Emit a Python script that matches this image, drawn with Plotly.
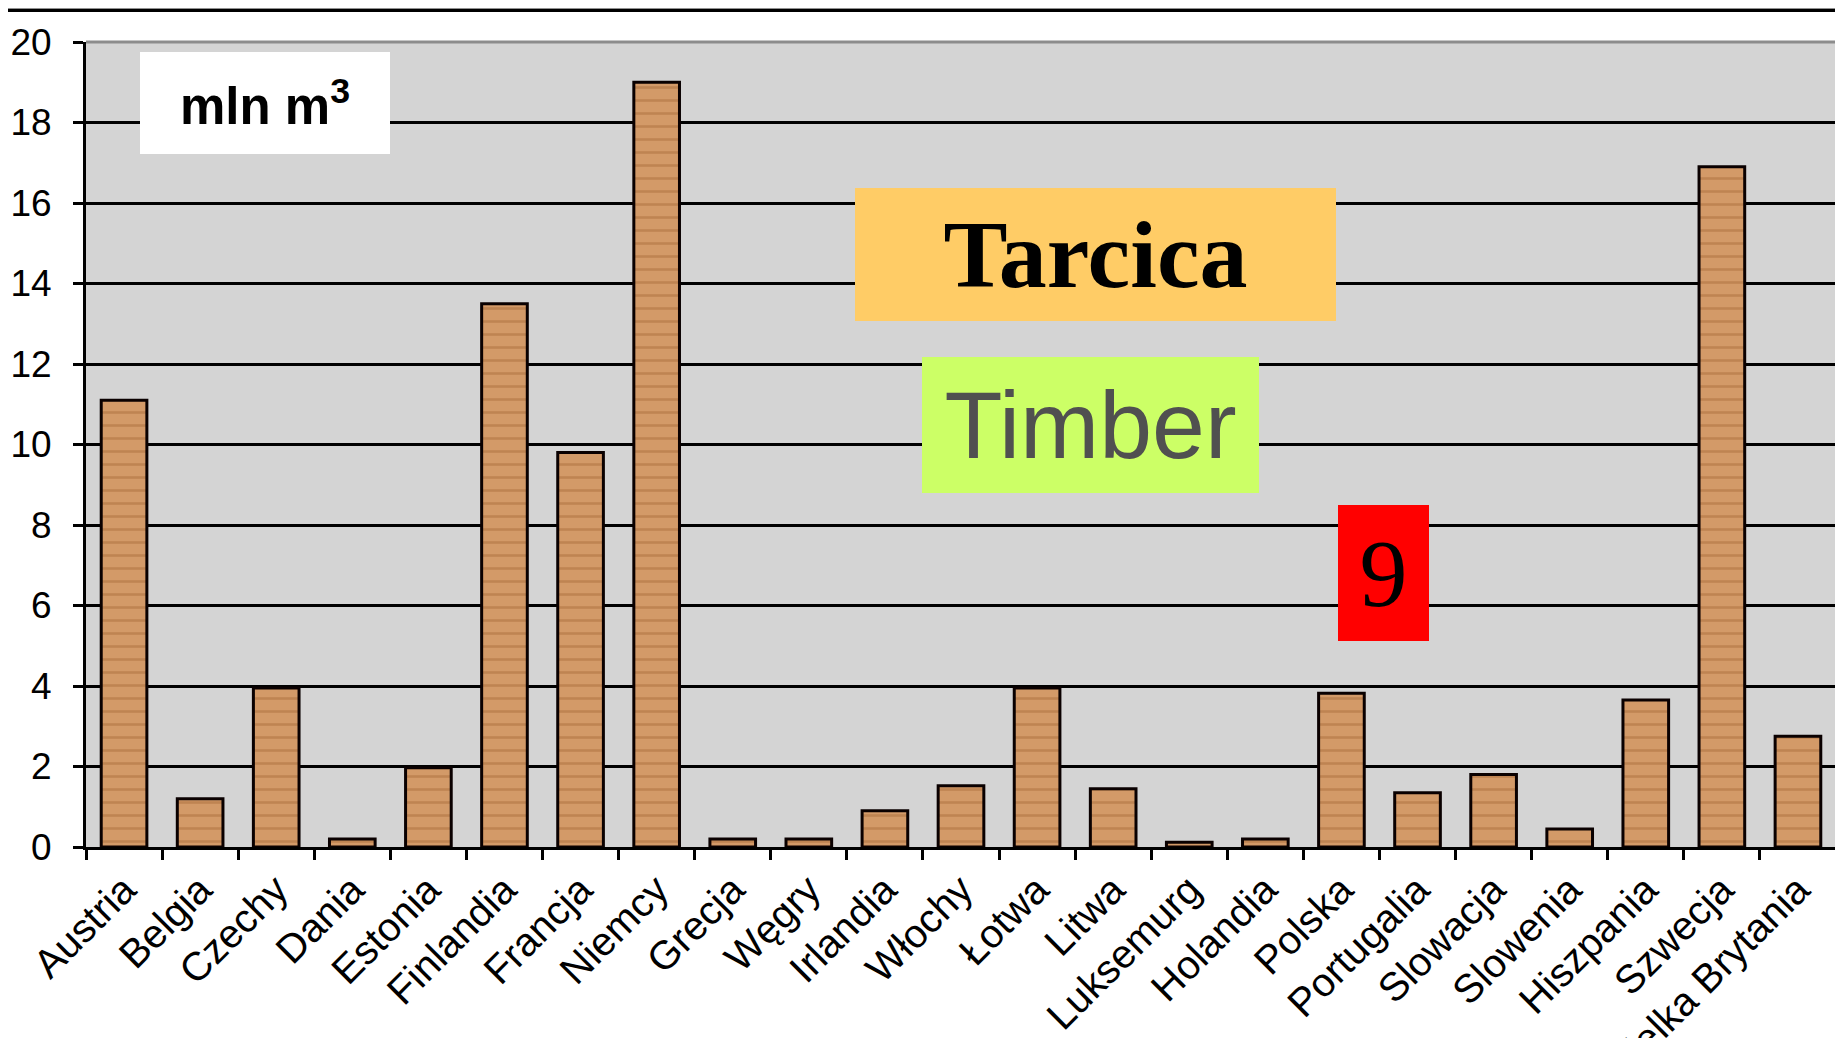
import plotly.graph_objects as go

categories = ["Austria", "Belgia", "Czechy", "Dania", "Estonia", "Finlandia", "Francja",
              "Niemcy", "Grecja", "Węgry", "Irlandia", "Włochy", "Łotwa", "Litwa",
              "Luksemurg", "Holandia", "Polska", "Portugalia", "Slowacja", "Slowenia",
              "Hiszpania", "Szwecja", "Wielka Brytania"]
values = [11.1, 1.2, 3.95, 0.2, 1.97, 13.5, 9.8, 19.0, 0.2, 0.2, 0.9, 1.52, 3.95, 1.45,
          0.12, 0.2, 3.82, 1.35, 1.8, 0.45, 3.65, 16.9, 2.75]
y_ticks = [0, 2, 4, 6, 8, 10, 12, 14, 16, 18, 20]

# page offset introduced by the default body margin of the html page
OFF = 8
W, H = 1843 - OFF, 1038 - OFF
# plot area in page pixels
PL, PR, PT, PB = 86, 1836, 42, 847
ML, MR, MT, MB = PL - OFF, W - (PR - OFF), PT - OFF, H - (PB - OFF)
PW, PH = PR - PL, PB - PT


def px_to_paper(x, y):
    return (x - PL) / PW, (PB - y) / PH


fig = go.Figure()
fig.add_trace(go.Bar(
    x=categories, y=values,
    marker=dict(
        color="#d39a68",
        line=dict(color="#0a0000", width=3),
        pattern=dict(shape="-", fgcolor="#a96d3c", bgcolor="#d39a68", size=13, solidity=0.2),
    ),
    hoverinfo="skip",
))

sans = "Liberation Sans, Arial, sans-serif"
serif = "Liberation Serif, Times New Roman, serif"

annos = [
    dict(text="<b>mln m<sup>3</sup></b>", cx=265, cy=103, w=250, h=102, bg="#ffffff",
         font=dict(family=sans, size=51, color="#000000")),
    dict(text="<b>Tarcica</b>", cx=1095.5, cy=254.5, w=481, h=133, bg="#ffcc66",
         font=dict(family=serif, size=96, color="#000000")),
    dict(text="Timber", cx=1090.5, cy=425, w=337, h=136, bg="#ccff66",
         font=dict(family=sans, size=95, color="#505050")),
    dict(text="9", cx=1383.5, cy=573, w=91, h=136, bg="#ff0000",
         font=dict(family=serif, size=96, color="#000000")),
]
for a in annos:
    px, py = px_to_paper(a["cx"], a["cy"])
    fig.add_annotation(x=px, y=py, xref="paper", yref="paper", text=a["text"],
                       showarrow=False, bgcolor=a["bg"], width=a["w"], height=a["h"],
                       borderpad=0, borderwidth=0, font=a["font"],
                       xanchor="center", yanchor="middle", align="center", valign="middle")

# top separator line across the slide
x0, _ = px_to_paper(OFF, 0)
x1, _ = px_to_paper(1843, 0)
_, yl = px_to_paper(0, 10.5)
_, yg = px_to_paper(0, 8.5)
fig.add_shape(type="line", xref="paper", yref="paper", x0=x0, x1=x1, y0=yg, y1=yg,
              line=dict(color="#909090", width=1.5))
fig.add_shape(type="line", xref="paper", yref="paper", x0=x0, x1=x1, y0=yl, y1=yl,
              line=dict(color="#000000", width=3))
# gray plot border (top and right)
fig.add_shape(type="line", xref="paper", yref="paper", x0=0, x1=1.001, y0=1, y1=1,
              line=dict(color="#8c8c8c", width=3), layer="above")
fig.add_shape(type="line", xref="paper", yref="paper", x0=1.001, x1=1.001, y0=0, y1=1,
              line=dict(color="#8c8c8c", width=3), layer="above")

fig.update_layout(
    width=W, height=H,
    margin=dict(l=ML, r=MR, t=MT, b=MB, autoexpand=False),
    paper_bgcolor="#ffffff",
    plot_bgcolor="#d4d4d4",
    bargap=0.4,
    showlegend=False,
    font=dict(family=sans, color="#000000"),
)
fig.update_xaxes(
    type="category", showline=True, linecolor="#000000", linewidth=3,
    ticks="outside", ticklen=10, tickwidth=3, tickcolor="#000000", tickson="boundaries",
    tickangle=-45, tickfont=dict(family=sans, size=40, color="#000000"),
    showgrid=False, automargin=False, range=[-0.5, len(categories) - 0.5],
)
fig.update_yaxes(
    range=[0, 20], tickvals=y_ticks, ticktext=[str(v) for v in y_ticks],
    showline=True, linecolor="#000000", linewidth=3,
    ticks="outside", ticklen=10, tickwidth=3, tickcolor="#000000",
    showgrid=True, gridcolor="#000000", gridwidth=3, zeroline=False,
    tickfont=dict(family=sans, size=37, color="#000000"), ticklabelstandoff=14,
    automargin=False,
)

fig.write_html("out.html")
